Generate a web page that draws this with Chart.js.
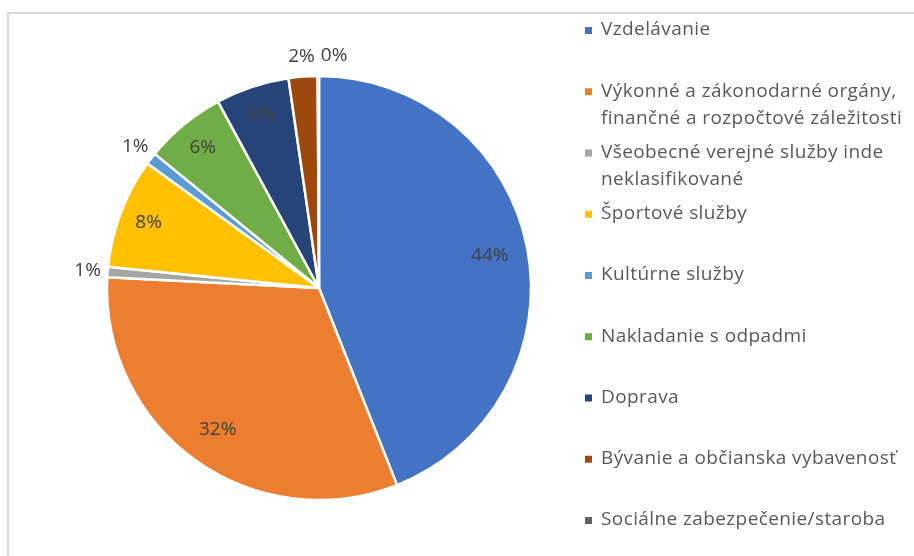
<!DOCTYPE html>
<html>
<head>
<meta charset="utf-8">
<script src="https://cdn.jsdelivr.net/npm/chart.js@4/dist/chart.umd.min.js"></script>
<style>
  body { margin: 0; background: #fff; }
  #wrap { width: 914px; height: 556px; position: relative; }
</style>
</head>
<body>
<div id="wrap"><canvas id="myChart"></canvas></div>
<script>
// data (shares of the total, in %)
var categories = [
    'Vzdelávanie',
    ['Výkonné a zákonodarné orgány,', 'finančné a rozpočtové záležitosti'],
    ['Všeobecné verejné služby inde', 'neklasifikované'],
    'Športové služby',
    'Kultúrne služby',
    'Nakladanie s odpadmi',
    'Doprava',
    'Bývanie a občianska vybavenosť',
    'Sociálne zabezpečenie/staroba'
];
var shares = [44.0, 31.8, 0.8, 8.4, 0.9, 6.2, 5.6, 2.2, 0.1];
var colors = ['#4472C4', '#ED7D31', '#A5A5A5', '#FFC000', '#5B9BD5', '#70AD47', '#264478', '#9E480E', '#636363'];

var font = '"Open Sans", "Liberation Sans", sans-serif';

// gray frame round the plot area
var framePlugin = {
    id: 'frame',
    beforeDraw: function (chart) {
        var ctx = chart.ctx;
        ctx.save();
        ctx.fillStyle = '#fff';
        ctx.fillRect(0, 0, chart.width, chart.height);
        ctx.fillStyle = '#d9d9d9';
        ctx.fillRect(7, 12, chart.width - 7, 2);
        ctx.fillRect(7, 12, 2, chart.height - 12);
        ctx.restore();
    }
};

// percentage labels: inside for big slices, outside for small ones
var pctPlugin = {
    id: 'pct',
    afterDatasetsDraw: function (chart) {
        var ctx = chart.ctx;
        var meta = chart.getDatasetMeta(0);
        var data = chart.data.datasets[0].data;
        var total = data.reduce(function (a, b) { return a + b; }, 0);
        var placed = [];
        ctx.save();
        ctx.font = '19px ' + font;
        ctx.fillStyle = '#404040';
        ctx.textAlign = 'center';
        ctx.textBaseline = 'middle';
        meta.data.forEach(function (arc, i) {
            var p = arc.getProps(['x', 'y', 'startAngle', 'endAngle', 'outerRadius'], true);
            var mid = (p.startAngle + p.endAngle) / 2;
            var frac = data[i] / total;
            var txt = Math.round(frac * 100) + '%';
            var w = ctx.measureText(txt).width;
            var r = frac >= 0.04 ? p.outerRadius * (frac > 0.3 ? 0.82 : 0.86) : p.outerRadius + 20;
            var x = p.x + Math.cos(mid) * r;
            var y = p.y + Math.sin(mid) * r;
            if (frac < 0.04) {
                placed.forEach(function (b) {
                    if (Math.abs(b.y - y) < 16 && x - w / 2 < b.x + b.w / 2 + 6 && x + w / 2 > b.x - b.w / 2) {
                        x = b.x + b.w / 2 + 6 + w / 2;
                    }
                });
                placed.push({ x: x, y: y, w: w });
            }
            ctx.fillText(txt, x, y);
        });
        ctx.restore();
    }
};

// legend on the right, drawn from the chart data
var legendPlugin = {
    id: 'sideLegend',
    afterDraw: function (chart) {
        var ctx = chart.ctx;
        var labels = chart.data.labels;
        var bg = chart.data.datasets[0].backgroundColor;
        ctx.save();
        ctx.font = '19px ' + font;
        ctx.letterSpacing = '0.4px';
        ctx.textBaseline = 'middle';
        ctx.textAlign = 'left';
        for (var i = 0; i < labels.length; i++) {
            var y0 = 30 + i * 61.25;
            ctx.fillStyle = bg[i];
            ctx.fillRect(585, y0 - 3, 7, 7);
            ctx.fillStyle = '#595959';
            var lines = [].concat(labels[i]);
            for (var k = 0; k < lines.length; k++) {
                ctx.fillText(lines[k], 601, y0 + k * 27.5);
            }
        }
        ctx.restore();
    }
};

var ctx = document.getElementById('myChart').getContext('2d');
var mychart = new Chart(ctx, {
    type: 'pie',
    data: {
        labels: categories,
        datasets: [{
            data: shares,
            backgroundColor: colors,
            borderColor: '#fff',
            borderWidth: 2.5,
            hoverOffset: 0
        }]
    },
    options: {
        responsive: true,
        maintainAspectRatio: false,
        animation: false,
        radius: 212,
        layout: { padding: { left: 100, right: 376, top: 70, bottom: 50 } },
        plugins: {
            legend: { display: false },
            tooltip: { enabled: false }
        }
    },
    plugins: [framePlugin, pctPlugin, legendPlugin]
});
</script>
</body>
</html>
